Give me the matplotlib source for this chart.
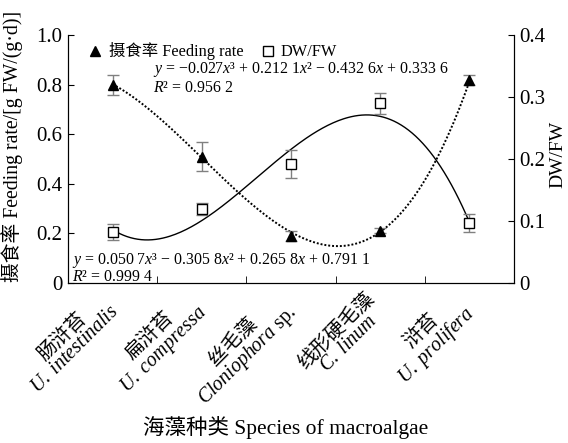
import numpy as np
import matplotlib
matplotlib.use("Agg")
import matplotlib.pyplot as plt
from matplotlib.ticker import FixedLocator

plt.rcParams['font.family'] = ['Liberation Serif', 'Noto Sans CJK SC']
plt.rcParams['mathtext.fontset'] = 'custom'
plt.rcParams['mathtext.rm'] = 'Liberation Serif'
plt.rcParams['mathtext.it'] = 'Liberation Serif:italic'

species_cn = ['肠浒苔', '扁浒苔', '丝毛藻', '线形硬毛藻', '浒苔']
species_lat = [r'$\mathit{U.\ intestinalis}$', r'$\mathit{U.\ compressa}$',
               r'$\mathit{Cloniophora}$ sp.', r'$\mathit{C.\ linum}$',
               r'$\mathit{U.\ prolifera}$']
feeding = [0.80, 0.51, 0.19, 0.21, 0.82]
feeding_err = [0.04, 0.06, 0.02, 0.01, 0.02]
dwfw = [0.082, 0.119, 0.192, 0.290, 0.097]
dwfw_err = [0.013, 0.010, 0.022, 0.017, 0.015]
# cubic fits printed on the chart (x = 1..5)
feeding_fit = [0.0507, -0.3058, 0.2658, 0.7911]
dwfw_fit = [-0.027, 0.2121, -0.4326, 0.3336]

x = np.arange(len(species_cn))
xs = np.linspace(1, 5, 200)

fig = plt.figure(figsize=(5.68, 4.43), dpi=100)
ax = fig.add_axes([0.1197, 0.361, 0.7853, 0.56])
ax2 = ax.twinx()

ax.plot(xs - 1, np.polyval(feeding_fit, xs), color='black', linestyle=(0, (1, 1)), lw=1.4)
ax.errorbar(x, feeding, yerr=feeding_err, fmt='none', ecolor='gray', elinewidth=1, capsize=4)
h1, = ax.plot(x, feeding, linestyle='none', marker='^', color='black', markersize=7)

ax2.plot(xs - 1, np.polyval(dwfw_fit, xs), color='black', lw=1)
ax2.errorbar(x, dwfw, yerr=dwfw_err, fmt='none', ecolor='gray', elinewidth=1, capsize=4)
h2, = ax2.plot(x, dwfw, linestyle='none', marker='s', markerfacecolor='white',
               markeredgecolor='black', markersize=7, markeredgewidth=1)

ax.set_xlim(-0.5, 4.5)
ax.set_ylim(0, 1.0)
ax2.set_ylim(0, 0.4)
ax.set_yticks([0, 0.2, 0.4, 0.6, 0.8, 1.0])
ax.set_yticklabels(['0', '0.2', '0.4', '0.6', '0.8', '1.0'])
ax2.set_yticks([0, 0.1, 0.2, 0.3, 0.4])
ax2.set_yticklabels(['0', '0.1', '0.2', '0.3', '0.4'])
ax.set_xticks(x)
ax.set_xticklabels([])
ax.xaxis.set_minor_locator(FixedLocator([0.5, 1.5, 2.5, 3.5]))
ax.tick_params(axis='x', which='major', length=0)
ax.tick_params(axis='x', which='minor', direction='in', length=5)
ax.tick_params(axis='y', direction='in', length=4, labelsize=15, pad=4)
ax2.tick_params(axis='y', direction='in', length=4, labelsize=15, pad=4)
for a in (ax, ax2):
    a.spines['top'].set_visible(False)

for i in range(len(x)):
    ax.text(i + 0.12, -0.025, species_cn[i] + '\n' + species_lat[i], rotation=45,
            ha='right', va='top', multialignment='center', fontsize=14.3,
            transform=ax.get_xaxis_transform(), linespacing=0.95)

ax.set_ylabel('摄食率 Feeding rate/[g FW/(g·d)]', fontsize=14.2)
ax.yaxis.set_label_coords(-0.1, 0.55)
ax2.set_ylabel('DW/FW', fontsize=14)
ax2.yaxis.set_label_coords(1.08, 0.52)
fig.text(0.503, 0.034, '海藻种类 Species of macroalgae', ha='center', va='center',
         fontsize=15.5)

ax.legend([h1, h2], ['摄食率 Feeding rate', 'DW/FW'], loc='upper left',
          bbox_to_anchor=(0.01, 1.03), ncol=2, frameon=False, fontsize=11.8,
          handletextpad=0.3, columnspacing=1.0, handlelength=1.0)

ax.text(0.19, 0.845, r'$y$ = −0.027$x$³ + 0.212 1$x$² − 0.432 6$x$ + 0.333 6',
        transform=ax.transAxes, fontsize=11.4)
ax.text(0.19, 0.77, r'$R$² = 0.956 2', transform=ax.transAxes, fontsize=11.4)
ax.text(0.01, 0.075, r'$y$ = 0.050 7$x$³ − 0.305 8$x$² + 0.265 8$x$ + 0.791 1',
        transform=ax.transAxes, fontsize=11.4)
ax.text(0.01, 0.01, r'$R$² = 0.999 4', transform=ax.transAxes, fontsize=11.4)

fig.savefig('out.png', dpi=100)
